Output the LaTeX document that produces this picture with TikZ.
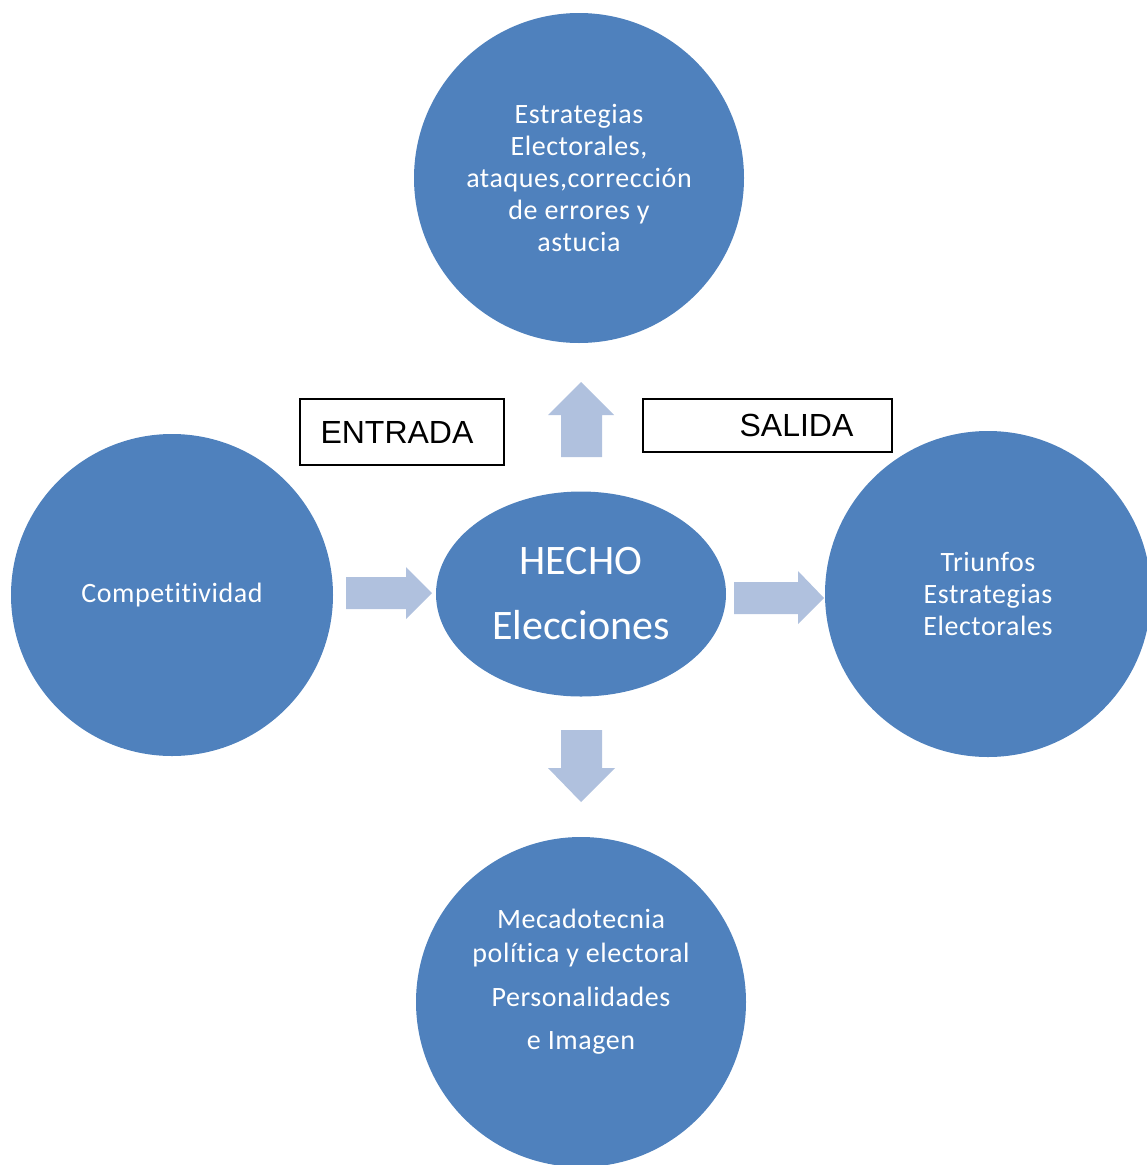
\documentclass[tikz,border=0pt]{standalone}
\usepackage{fontspec}
\setmainfont{Carlito}
\newfontfamily\bubblefont[LetterSpace=2,Ligatures=NoCommon]{Carlito}
\newfontfamily\arialfont{Liberation Sans}
\usetikzlibrary{shapes.geometric}
\definecolor{circblue}{HTML}{4F81BD}
\definecolor{arrblue}{HTML}{B0C1DE}
\tikzset{
  bubble/.style={circle, fill=circblue, text=white, align=center, inner sep=0pt,
    font=\bubblefont\fontsize{28}{32}\selectfont},
  bubbletext/.style={text=white, align=center, inner sep=0pt,
    font=\bubblefont\fontsize{28}{34}\selectfont},
  hecho/.style={ellipse, fill=circblue, text=white, align=center, inner sep=0pt,
    font=\fontsize{42}{65}\selectfont},
  tagbox/.style={draw=black, line width=1.2pt, fill=white, inner sep=0pt,
    font=\arialfont\fontsize{32}{36}\selectfont},
  blockarrow/.style={fill=arrblue}
}
\begin{document}
\begin{tikzpicture}[x=1pt,y=-1pt]
   \useasboundingbox (0,0) rectangle (1147,1165);
   \clip (0,0) rectangle (1147,1165);
   % circles
   \node[bubble, minimum size=330pt] (estrategias) at (579,178)
      {Estrategias\\Electorales,\\ataques,corrección\\de errores y\\astucia};
   \node[bubble, minimum size=322pt] (competitividad) at (172,595) {Competitividad};
   \node[bubble, minimum size=326pt] (triunfos) at (988,594)
      {Triunfos\\Estrategias\\Electorales};
   \node[bubble, minimum size=330pt] (mercadotecnia) at (581,1002) {};
   \node[bubbletext, yshift=20pt] (mercadotecniatxt) at (mercadotecnia.center)
      {Mecadotecnia\\política y electoral\\[10pt]Personalidades\\[9pt]e Imagen};
   \node[hecho, minimum width=290pt, minimum height=205pt] (elecciones) at (581,594)
      {HECHO\\Elecciones};
   % entrada / salida
   \node[tagbox, minimum width=204pt, minimum height=66pt] (entrada) at (402,432)
      {ENTRADA\hspace*{10pt}};
   \node[tagbox, minimum width=249pt, minimum height=53pt] (salida) at (767.5,425.5)
      {\hspace*{58pt}SALIDA};
   % block arrows
   \fill[blockarrow] (561,457) -- (561,415) -- (548,415) -- (581,382) -- (614,415)
      -- (602,415) -- (602,457) -- cycle;
   \fill[blockarrow] (561,730) -- (602,730) -- (602,768) -- (615,768) -- (581,802)
      -- (548,768) -- (561,768) -- cycle;
   \fill[blockarrow] (346,577) -- (406,577) -- (406,567) -- (432,593) -- (406,619)
      -- (406,609) -- (346,609) -- cycle;
   \fill[blockarrow] (734,582) -- (798,582) -- (798,571) -- (824,598) -- (798,624)
      -- (798,614) -- (734,614) -- cycle;
\end{tikzpicture}
\end{document}
